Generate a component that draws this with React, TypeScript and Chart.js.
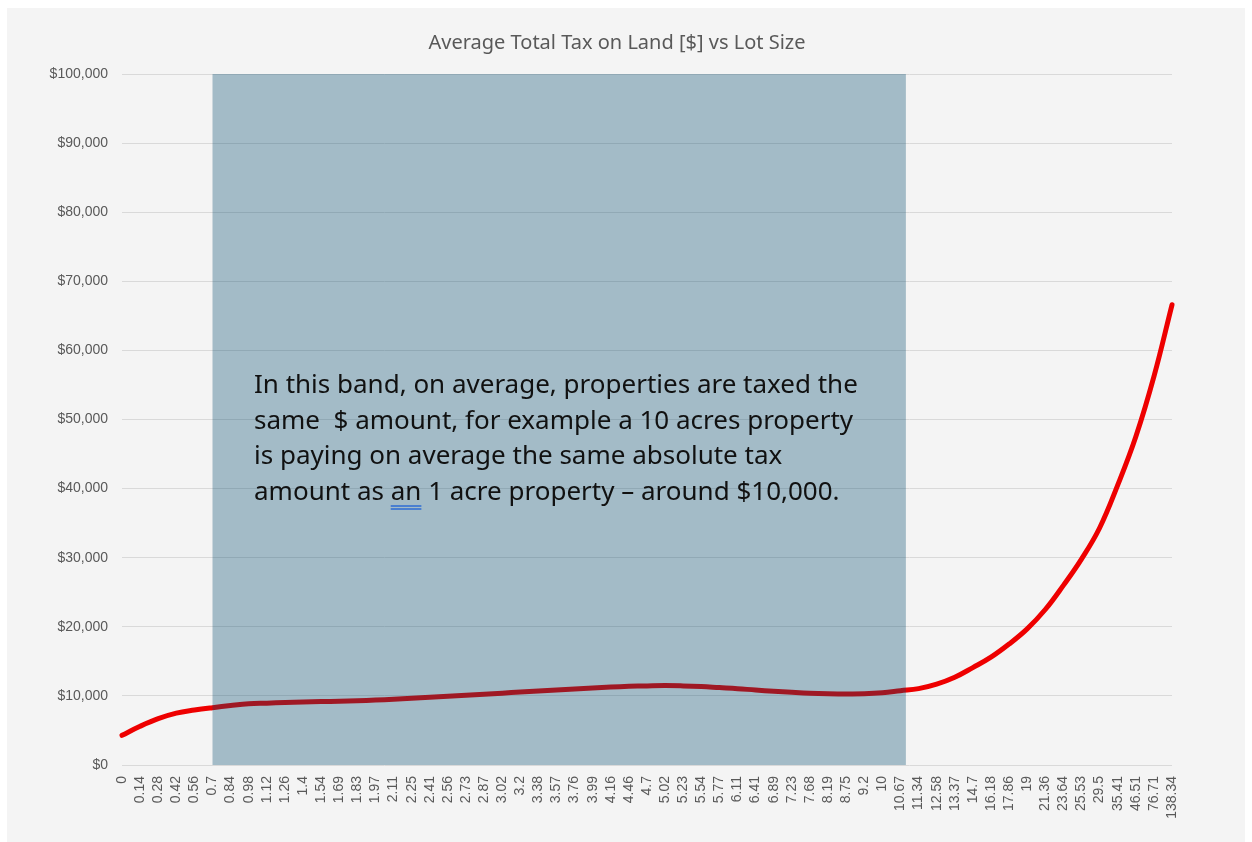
import React, { useEffect, useRef } from "react";
import { Chart, registerables } from "chart.js";

Chart.register(...registerables);

const TITLE = "Average Total Tax on Land [$] vs Lot Size";

const LOT_SIZES: string[] = [
  "0", "0.14", "0.28", "0.42", "0.56", "0.7", "0.84", "0.98", "1.12", "1.26",
  "1.4", "1.54", "1.69", "1.83", "1.97", "2.11", "2.25", "2.41", "2.56", "2.73",
  "2.87", "3.02", "3.2", "3.38", "3.57", "3.76", "3.99", "4.16", "4.46", "4.7",
  "5.02", "5.23", "5.54", "5.77", "6.11", "6.41", "6.89", "7.23", "7.68", "8.19",
  "8.75", "9.2", "10", "10.67", "11.34", "12.58", "13.37", "14.7", "16.18", "17.86",
  "19", "21.36", "23.64", "25.53", "29.5", "35.41", "46.51", "76.71", "138.34",
];

const AVG_TAX: number[] = [
  4300, 5600, 6700, 7500, 7950, 8300, 8600, 8850, 8950, 9050,
  9120, 9180, 9230, 9300, 9400, 9520, 9650, 9800, 9950, 10100,
  10250, 10400, 10550, 10700, 10870, 11000, 11150, 11280, 11380, 11450,
  11500, 11450, 11350, 11200, 11050, 10850, 10680, 10530, 10400, 10320,
  10280, 10300, 10450, 10750, 11050, 11700, 12700, 14100, 15600, 17500,
  19700, 22500, 26000, 29800, 34300, 40500, 47500, 56200, 66600,
];

const Y_MIN = 0;
const Y_MAX = 100000;
const Y_STEP = 10000;

// shaded band, in category-index units (from "0.7" to between "10.67" and "11.34")
const BAND_START = 5;
const BAND_END = 43.3;

const NOTE_LINES = [
  "In this band, on average, properties are taxed the",
  "same  $ amount, for example a 10 acres property",
  "is paying on average the same absolute tax",
];

const bandPlugin = {
  id: "band",
  afterDatasetsDraw(chart: any) {
    const { ctx, scales } = chart;
    const x = scales.x;
    const y = scales.y;
    const left = x.getPixelForValue(BAND_START);
    const right = x.getPixelForValue(BAND_END);
    const top = y.getPixelForValue(Y_MAX);
    const bottom = y.getPixelForValue(Y_MIN);
    ctx.save();
    ctx.fillStyle = "rgba(0,74,110,0.33)";
    ctx.fillRect(left, top, right - left, bottom - top);
    ctx.restore();
  },
};

export default function App() {
  const ref = useRef<HTMLCanvasElement | null>(null);

  useEffect(() => {
    if (!ref.current) return;
    const chart = new Chart(ref.current, {
      type: "line",
      data: {
        labels: LOT_SIZES,
        datasets: [
          {
            label: "Average Total Tax on Land",
            data: AVG_TAX,
            borderColor: "#ee0000",
            borderWidth: 5,
            pointRadius: 0,
            tension: 0.4,
            borderCapStyle: "round",
            borderJoinStyle: "round",
            clip: false as any,
            fill: false,
          },
        ],
      },
      options: {
        animation: false,
        responsive: true,
        maintainAspectRatio: false,
        layout: { padding: { top: 66, right: 73, bottom: 0, left: 0 } },
        plugins: {
          legend: { display: false },
          title: { display: false },
          tooltip: { enabled: false },
        },
        scales: {
          x: {
            grid: { display: false, drawTicks: false },
            border: { display: false },
            ticks: {
              autoSkip: false,
              minRotation: 90,
              maxRotation: 90,
              padding: 11,
              color: "#595959",
              font: { family: "'Liberation Sans', Arial, sans-serif", size: 14 },
            },
            afterFit(scale: any) {
              scale.height = 77;
            },
          },
          y: {
            min: Y_MIN,
            max: Y_MAX,
            grid: { color: "#d9d9d9", lineWidth: 1, drawTicks: false },
            border: { display: false },
            ticks: {
              stepSize: Y_STEP,
              padding: 14,
              color: "#595959",
              font: { family: "'Liberation Sans', Arial, sans-serif", size: 14 },
              callback: (v: any) => "$" + Number(v).toLocaleString("en-US"),
            },
            afterFit(scale: any) {
              scale.width = 115;
            },
          },
        },
      },
      plugins: [bandPlugin],
    });
    return () => chart.destroy();
  }, []);

  return (
    <div
      style={{
        position: "fixed",
        left: 7,
        top: 8,
        width: 1238,
        height: 834,
        background: "#f4f4f4",
      }}
    >
      <canvas ref={ref} />
      <div
        style={{
          position: "absolute",
          left: 0,
          top: 21,
          width: 1220,
          textAlign: "center",
          fontFamily: "'Noto Sans', 'Open Sans', sans-serif",
          fontSize: 20,
          lineHeight: "26px",
          color: "#595959",
          pointerEvents: "none",
        }}
      >
        {TITLE}
      </div>
      <div
        style={{
          position: "absolute",
          left: 247,
          top: 358,
          fontFamily: "'Noto Sans', sans-serif",
          fontSize: 26,
          lineHeight: "35.6px",
          color: "#111111",
          whiteSpace: "pre",
          pointerEvents: "none",
        }}
      >
        {NOTE_LINES.map((l, i) => (
          <div key={i}>{l}</div>
        ))}
        <div>
          {"amount as "}
          <span
            style={{
              textDecorationLine: "underline",
              textDecorationStyle: "double",
              textDecorationColor: "#4a7fd0",
              textUnderlineOffset: 5,
            }}
          >
            an
          </span>
          {" 1 acre property \u2013 around $10,000."}
        </div>
      </div>
    </div>
  );
}
